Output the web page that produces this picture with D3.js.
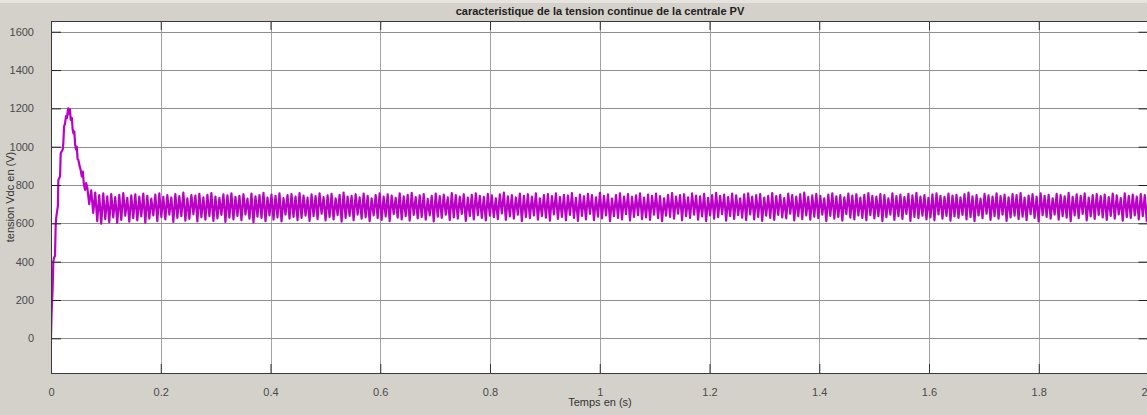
<!DOCTYPE html>
<html>
<head>
<meta charset="utf-8">
<script src="https://cdn.jsdelivr.net/npm/d3@7"></script>
<style>
  body { margin: 0; background: #d4d1ca; }
  text { font-family: "Liberation Sans", Arial, sans-serif; }
</style>
</head>
<body>
<div id="my_dataviz"></div>
<script>
// tick labels
var xTicks = [0, 0.2, 0.4, 0.6, 0.8, 1, 1.2, 1.4, 1.6, 1.8, 2];
var yTicks = [0, 200, 400, 600, 800, 1000, 1200, 1400, 1600];

// start-up transient (time in s, voltage in V)
var transT = [0, 0.001, 0.003, 0.0042, 0.0055, 0.0073, 0.0086, 0.010, 0.0115, 0.0125, 0.0134, 0.0165, 0.0177, 0.0214,
  0.0225, 0.0238, 0.0255, 0.0274, 0.029, 0.0305, 0.0316, 0.033, 0.0345, 0.036, 0.038, 0.0395, 0.0408, 0.0425,
  0.044, 0.0457, 0.047, 0.0485, 0.05, 0.052, 0.054, 0.056, 0.058, 0.060, 0.0622, 0.064];
var transV = [0, 130, 260, 400, 420, 430, 600, 640, 670, 690, 826, 844, 966, 985,
  1020, 1105, 1120, 1160, 1150, 1185, 1200, 1170, 1195, 1140, 1150, 1090, 1070, 1080,
  1010, 985, 1000, 935, 930, 900, 880, 845, 870, 800, 775, 810];

// steady ripple: one crest and one trough per period
var rippleStart = 0.066;
var ripplePeriod = 0.0073;
var vdcHigh = [
  790, 772, 760, 748, 756, 741, 752, 737, 749, 758, 733, 746, 751, 739, 755,
  744, 729, 750, 757, 738, 747, 735, 753, 742, 760, 731, 748, 745, 754, 736,
  749, 758, 740, 733, 751, 746, 757, 738, 744, 752, 729, 755, 741, 748, 759,
  735, 750, 743, 756, 732, 747, 753, 739, 758, 745, 734, 751, 742, 757, 737,
  746, 754, 731, 749, 760, 740, 744, 752, 736, 755, 743, 730, 748, 757, 739,
  751, 745, 733, 756, 741, 749, 759, 737, 746, 753, 728, 744, 755, 742, 750,
  736, 758, 747, 740, 752, 734, 749, 757, 743, 738, 754, 746, 731, 751, 760,
  741, 748, 735, 755, 744, 752, 739, 757, 730, 747, 753, 742, 756, 737, 749,
  745, 758, 733, 750, 741, 754, 747, 736, 759, 743, 751, 729, 748, 756, 740,
  753, 738, 746, 757, 734, 750, 744, 755, 742, 731, 749, 758, 739, 747, 752,
  736, 756, 745, 741, 754, 733, 748, 759, 743, 750, 737, 755, 746, 730, 751,
  757, 740, 748, 753, 735, 744, 758, 742, 749, 732, 755, 747, 739, 752, 760,
  738, 746, 754, 743, 731, 750, 757, 741, 748, 736, 755, 745, 752, 734, 749,
  758, 744, 739, 753, 747, 730, 756, 742, 750, 737, 754, 746, 759, 740, 748,
  733, 751, 757, 743, 738, 755, 745, 749, 735, 752, 760, 741, 747, 729, 754,
  746, 739, 756, 742, 750, 736, 753, 748, 758, 734, 745, 752, 740, 757, 743,
  749, 731, 754, 747, 741, 759, 738, 751, 744, 756, 735, 748, 753, 742, 750,
  737, 755, 746, 732, 757, 744, 750, 739, 753, 747, 758, 736, 749, 743, 755];
var vdcLow = [
  700, 655, 612, 598, 622, 606, 631, 602, 618, 640, 609, 627, 615, 636, 604,
  625, 641, 611, 633, 620, 645, 607, 629, 638, 614, 623, 648, 610, 632, 619,
  637, 613, 626, 644, 608, 630, 621, 639, 616, 647, 624, 605, 635, 628, 612,
  642, 619, 631, 610, 646, 625, 634, 617, 629, 640, 613, 637, 622, 650, 615,
  633, 620, 643, 609, 628, 639, 616, 645, 624, 632, 611, 641, 627, 618, 636,
  612, 648, 630, 621, 638, 614, 644, 626, 633, 619, 642, 610, 635, 628, 646,
  617, 631, 624, 649, 613, 637, 620, 643, 629, 615, 640, 632, 622, 652, 618,
  636, 625, 645, 611, 633, 627, 641, 619, 638, 630, 614, 647, 623, 634, 616,
  644, 628, 613, 639, 621, 650, 617, 635, 626, 642, 612, 637, 629, 620, 648,
  615, 634, 643, 622, 631, 618, 646, 627, 611, 640, 633, 624, 651, 616, 637,
  629, 645, 619, 636, 612, 641, 625, 632, 648, 614, 638, 623, 643, 630, 617,
  647, 621, 634, 613, 640, 628, 618, 644, 631, 626, 650, 615, 637, 622, 642,
  619, 635, 627, 646, 612, 639, 624, 633, 614, 648, 630, 620, 641, 628, 616,
  643, 626, 637, 611, 632, 645, 618, 638, 623, 649, 613, 634, 627, 640, 621,
  631, 616, 647, 625, 639, 614, 636, 629, 644, 620, 633, 612, 642, 627, 650,
  618, 638, 624, 645, 613, 631, 640, 622, 635, 617, 648, 628, 610, 643, 634,
  625, 646, 619, 637, 630, 612, 641, 627, 649, 615, 636, 623, 644, 631, 618,
  639, 624, 647, 614, 633, 628, 642, 620, 637, 611, 645, 630, 622, 648, 635];

// set the dimensions of the page and the axes box
var W = 1147, H = 415;
var box = { left: 51, right: 1148.5, top: 21, bottom: 373 };

var svg = d3.select("#my_dataviz")
  .append("svg")
  .attr("width", W)
  .attr("height", H);

// light strip on the very top of the window
svg.append("rect")
  .attr("x", 0).attr("y", 0)
  .attr("width", W).attr("height", 3)
  .attr("fill", "#e6e4df");

var x = d3.scaleLinear().domain([0, 2]).range([box.left, box.right]);
var y = d3.scaleLinear().domain([-181, 1656]).range([box.bottom, box.top]);

// white plotting area
svg.append("rect")
  .attr("x", box.left).attr("y", box.top)
  .attr("width", box.right - box.left).attr("height", box.bottom - box.top)
  .attr("fill", "#ffffff");

// grid
svg.append("g")
  .selectAll("line")
  .data(xTicks.slice(1))
  .enter().append("line")
  .attr("x1", function (d) { return Math.round(x(d)) + 0.5; })
  .attr("x2", function (d) { return Math.round(x(d)) + 0.5; })
  .attr("y1", box.top).attr("y2", box.bottom)
  .attr("stroke", "#a3a3a3");
svg.append("g")
  .selectAll("line")
  .data(yTicks)
  .enter().append("line")
  .attr("x1", box.left).attr("x2", box.right)
  .attr("y1", function (d) { return Math.round(y(d)) + 0.5; })
  .attr("y2", function (d) { return Math.round(y(d)) + 0.5; })
  .attr("stroke", "#8f8f8f");

// signal
var pts = [];
transT.forEach(function (t, i) { pts.push([t, transV[i]]); });
vdcHigh.forEach(function (v, i) {
  pts.push([rippleStart + i * ripplePeriod, v]);
  pts.push([rippleStart + (i + 0.5) * ripplePeriod, vdcLow[i]]);
});

svg.append("clipPath").attr("id", "clip")
  .append("rect")
  .attr("x", box.left).attr("y", box.top)
  .attr("width", box.right - box.left).attr("height", box.bottom - box.top);

svg.append("path")
  .datum(pts)
  .attr("clip-path", "url(#clip)")
  .attr("fill", "none")
  .attr("stroke", "#bb00c8")
  .attr("stroke-width", 2.2)
  .attr("stroke-linejoin", "round")
  .attr("d", d3.line()
    .x(function (d) { return x(d[0]); })
    .y(function (d) { return y(d[1]); }));

// axes with inner ticks, box outline
svg.append("g")
  .attr("transform", "translate(0," + box.bottom + ")")
  .call(d3.axisBottom(x).tickValues(xTicks).tickSizeInner(-9).tickSizeOuter(0).tickPadding(15)
    .tickFormat(function (d) { return d3.format("~g")(d); }))
  .call(function (g) {
    g.select(".domain").remove();
    g.selectAll("line").attr("stroke", "#333");
    g.selectAll("text").attr("fill", "#4a4a4a").style("font-size", "11px");
    // last label sits at the window edge, keep it inside
    g.selectAll("text").filter(function (d) { return d === 2; })
      .attr("text-anchor", "end").attr("x", W - box.right);
  });
svg.append("g")
  .attr("transform", "translate(0," + box.top + ")")
  .call(d3.axisTop(x).tickValues(xTicks).tickSizeInner(-9).tickSizeOuter(0).tickFormat(""))
  .call(function (g) { g.select(".domain").remove(); g.selectAll("line").attr("stroke", "#333"); });
svg.append("g")
  .attr("transform", "translate(" + box.left + ",0)")
  .call(d3.axisLeft(y).tickValues(yTicks).tickSizeInner(-10).tickSizeOuter(0).tickPadding(17)
    .tickFormat(d3.format("d")))
  .call(function (g) {
    g.select(".domain").remove();
    g.selectAll("line").attr("stroke", "#222");
    g.selectAll("text").attr("fill", "#4a4a4a").style("font-size", "11px");
  });
svg.append("g")
  .attr("transform", "translate(" + box.right + ",0)")
  .call(d3.axisRight(y).tickValues(yTicks).tickSizeInner(-10).tickSizeOuter(0).tickFormat(""))
  .call(function (g) { g.select(".domain").remove(); g.selectAll("line").attr("stroke", "#222"); });

svg.append("rect")
  .attr("x", box.left + 0.5).attr("y", box.top + 0.5)
  .attr("width", box.right - box.left).attr("height", box.bottom - box.top)
  .attr("fill", "none")
  .attr("stroke", "#3a3a3a");

// titles
svg.append("text")
  .attr("x", (box.left + 1147) / 2 + 1).attr("y", 15)
  .attr("text-anchor", "middle")
  .style("font-size", "11px").style("font-weight", "bold")
  .attr("fill", "#222")
  .text("caracteristique de la tension continue de la centrale PV");

svg.append("text")
  .attr("x", (box.left + 1147) / 2 + 1).attr("y", 406)
  .attr("text-anchor", "middle")
  .style("font-size", "11px")
  .attr("fill", "#333")
  .text("Temps en (s)");

svg.append("text")
  .attr("transform", "translate(14," + (box.top + box.bottom) / 2 + ")rotate(-90)")
  .attr("text-anchor", "middle")
  .style("font-size", "11px")
  .attr("fill", "#333")
  .text("tension Vdc en (V)");
</script>
</body>
</html>
